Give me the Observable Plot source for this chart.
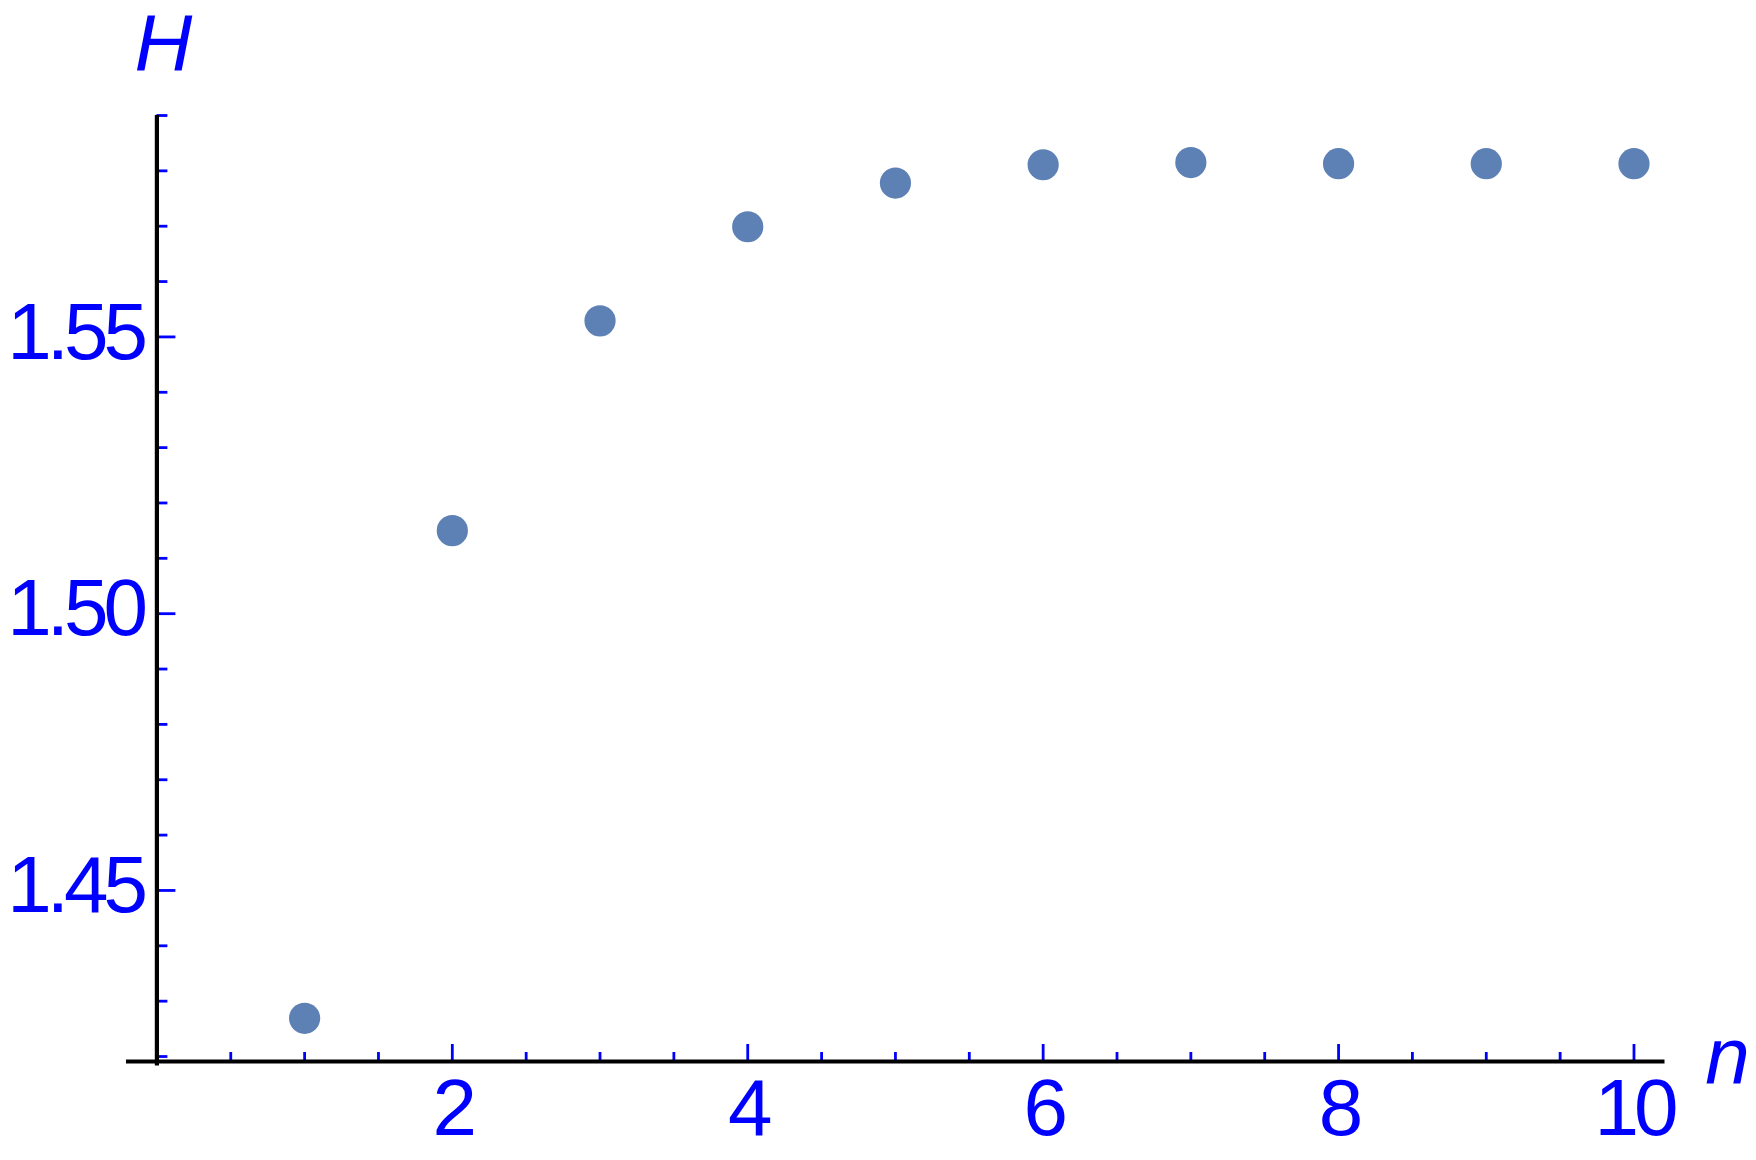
<!DOCTYPE html>
<html>
<head>
<meta charset="utf-8">
<script src="https://cdn.jsdelivr.net/npm/d3@7"></script>
<script src="https://cdn.jsdelivr.net/npm/@observablehq/plot@0.6"></script>
<style>
  html, body { margin: 0; padding: 0; background: #fff; }
  #chart svg text { letter-spacing: -5px; }
</style>
</head>
<body>
<div id="chart"></div>
<script>
// Data
const nValues = [1, 2, 3, 4, 5, 6, 7, 8, 9, 10];
const hValues = [1.4269, 1.5150, 1.5529, 1.5699, 1.5778, 1.5811, 1.5815, 1.5813, 1.5813, 1.5813];

// Ticks
const xMajorTicks = [2, 4, 6, 8, 10];
const xMinorTicks = [0.5, 1, 1.5, 2.5, 3, 3.5, 4.5, 5, 5.5, 6.5, 7, 7.5, 8.5, 9, 9.5];
const yMajorTicks = [1.45, 1.50, 1.55];
const yMinorTicks = [1.42, 1.43, 1.44, 1.46, 1.47, 1.48, 1.49, 1.51, 1.52, 1.53, 1.54, 1.56, 1.57, 1.58, 1.59];

const xDomain = [0, 10.21];
const yDomain = [1.4191, 1.59];
const xAxisStart = -0.206;
const yAxisBottom = 1.4183;

const data = nValues.map((n, i) => ({n, h: hValues[i]}));

const blue = "#0000ff";
const fontSize = 80;

const chart = Plot.plot({
  width: 1756,
  height: 1160,
  marginLeft: 156.4,
  marginRight: 91.5,
  marginTop: 115,
  marginBottom: 99,
  style: {fontFamily: "'Liberation Sans', Arial, Helvetica, sans-serif", background: "#fff", overflow: "visible"},
  x: {domain: xDomain},
  y: {domain: yDomain},
  marks: [
    // x-axis minor & major ticks (inward)
    Plot.axisX({ticks: xMinorTicks, tickSize: -9, fill: "none", label: null, stroke: blue, strokeWidth: 2.8}),
    Plot.axisX({ticks: xMajorTicks, tickSize: -17, fill: "none", label: null, stroke: blue, strokeWidth: 2.8}),
    Plot.axisX({ticks: xMajorTicks, tickSize: 0, tickPadding: 17, tickFormat: d => String(d), label: null,
      fill: blue, fontSize: fontSize}),
    // y-axis ticks
    Plot.axisY({ticks: yMinorTicks, tickSize: -11, fill: "none", label: null, stroke: blue, strokeWidth: 2.8}),
    Plot.axisY({ticks: yMajorTicks, tickSize: -19, fill: "none", label: null, stroke: blue, strokeWidth: 2.8}),
    Plot.axisY({ticks: yMajorTicks, tickSize: 0, tickPadding: 14, tickFormat: d3.format(".2f"), label: null,
      fill: blue, fontSize: fontSize, dy: -4}),
    // axis lines
    Plot.ruleY([yDomain[0]], {x1: xAxisStart, x2: xDomain[1], stroke: "#000", strokeWidth: 4.2}),
    Plot.ruleX([0], {y1: yAxisBottom, y2: yDomain[1], stroke: "#000", strokeWidth: 4.2}),
    // axis labels
    Plot.text(["H"], {frameAnchor: "top-left", text: d => d, dx: 4, dy: -46, fill: blue, fontSize: fontSize,
      fontStyle: "italic", textAnchor: "middle", lineAnchor: "bottom"}),
    Plot.text(["n"], {frameAnchor: "bottom-right", text: d => d, dx: 60, dy: 22, fill: blue, fontSize: fontSize,
      fontStyle: "italic", textAnchor: "middle", lineAnchor: "bottom"}),
    // points
    Plot.dot(data, {x: "n", y: "h", r: 15.6, fill: "#5e81b5", stroke: "none"})
  ]
});
document.getElementById("chart").appendChild(chart);
</script>
</body>
</html>
